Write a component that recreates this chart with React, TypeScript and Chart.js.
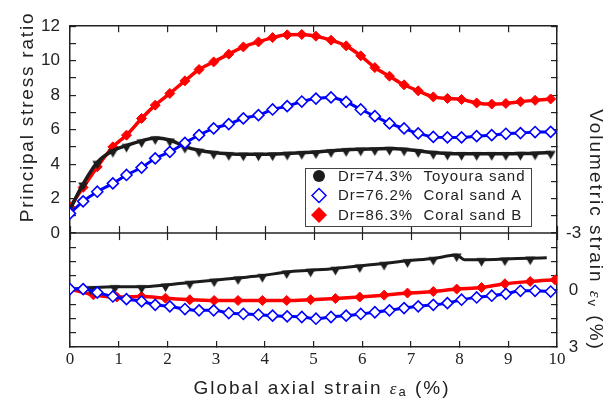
import React, { useEffect, useRef } from 'react';
import { Chart, registerables } from 'chart.js';

Chart.register(...registerables);

// ---------- data ----------
const seriesNames = ['Dr=74.3%  Toyoura sand', 'Dr=76.2%  Coral sand A', 'Dr=86.3%  Coral sand B'];

// upper panel: principal stress ratio vs axial strain
const strainTop = [0, 0.27, 0.56, 0.88, 1.16, 1.47, 1.75, 2.05, 2.36, 2.65, 2.95, 3.26, 3.56, 3.87, 4.16, 4.46, 4.76, 5.05, 5.36, 5.67, 5.97, 6.26, 6.56, 6.86, 7.15, 7.46, 7.75, 8.04, 8.35, 8.66, 8.95, 9.25, 9.55, 9.87];
const toyouraRatio = [1.38, 2.85, 4.1, 4.78, 5.08, 5.35, 5.52, 5.4, 5.02, 4.8, 4.67, 4.6, 4.57, 4.57, 4.58, 4.62, 4.66, 4.7, 4.77, 4.83, 4.86, 4.88, 4.9, 4.86, 4.77, 4.67, 4.62, 4.6, 4.6, 4.6, 4.6, 4.61, 4.63, 4.68];
const coralARatio = [1.14, 1.84, 2.4, 2.88, 3.37, 3.8, 4.33, 4.71, 5.23, 5.68, 6.07, 6.32, 6.65, 6.84, 7.17, 7.36, 7.63, 7.8, 7.87, 7.61, 7.17, 6.78, 6.36, 6.07, 5.78, 5.58, 5.55, 5.55, 5.62, 5.68, 5.76, 5.8, 5.86, 5.87];
const coralBRatio = [1.5, 2.65, 3.84, 5.0, 5.68, 6.65, 7.42, 8.1, 8.83, 9.49, 9.93, 10.38, 10.8, 11.09, 11.34, 11.5, 11.52, 11.42, 11.19, 10.86, 10.28, 9.6, 9.1, 8.6, 8.25, 7.9, 7.81, 7.75, 7.55, 7.48, 7.52, 7.62, 7.7, 7.78];

// lower panel: volumetric strain vs axial strain
const strainToyouraVol = [0, 0.42, 0.92, 1.47, 1.96, 2.46, 2.96, 3.45, 3.95, 4.45, 4.94, 5.45, 5.95, 6.45, 6.93, 7.46, 7.94, 8.1, 8.45, 8.93, 9.45, 9.79];
const toyouraVol = [-0.05, -0.12, -0.17, -0.17, -0.26, -0.4, -0.52, -0.64, -0.76, -0.95, -1.04, -1.14, -1.27, -1.4, -1.54, -1.66, -1.84, -1.6, -1.6, -1.63, -1.68, -1.7];
const toyouraVolUnmarked = [0, 8.1, 9.79];
const coralAVol = [-0.05, -0.05, 0.13, 0.34, 0.48, 0.6, 0.78, 0.86, 1.0, 1.07, 1.07, 1.21, 1.26, 1.3, 1.35, 1.39, 1.42, 1.51, 1.42, 1.35, 1.26, 1.17, 1.07, 0.95, 0.86, 0.78, 0.69, 0.51, 0.39, 0.3, 0.2, 0.04, 0.04, 0.08];
const strainCoralBVol = [0, 0.48, 0.96, 1.47, 1.96, 2.46, 2.96, 3.45, 3.95, 4.45, 4.94, 5.45, 5.95, 6.45, 6.93, 7.46, 7.94, 8.45, 8.93, 9.45, 9.96];
const coralBVol = [-0.05, 0.25, 0.37, 0.34, 0.43, 0.51, 0.55, 0.55, 0.55, 0.55, 0.51, 0.45, 0.37, 0.27, 0.16, 0.08, -0.05, -0.13, -0.33, -0.45, -0.54];

// axes
const strainRange = [0, 10];
const ratioRange = [0, 12];
const ratioTickLabels = [0, 2, 4, 6, 8, 10, 12];
const volRange = [-3, 3];
const volTickLabels = [-3, 0, 3];

// ---------- styling ----------
const SANS = '"Liberation Sans", Arial, Helvetica, sans-serif';
const SERIF = '"Liberation Serif", "Times New Roman", serif';
const INK = '#222222';
const BLACK = '#1c1c1c';
const BLUE = '#0000ff';
const RED = '#ff0000';

const pts = (xs: number[], ys: number[]) => xs.map((x, i) => ({ x, y: ys[i] }));

// downward triangle hanging just below its data point
function makeHangingTriangle(): HTMLCanvasElement {
  const c = document.createElement('canvas');
  c.width = 11;
  c.height = 20;
  const g = c.getContext('2d')!;
  g.fillStyle = BLACK;
  g.beginPath();
  g.moveTo(0.5, 8.5);
  g.lineTo(10.5, 8.5);
  g.lineTo(5.5, 17);
  g.closePath();
  g.fill();
  return c;
}

type Seg = { t: string; font: string; dy?: number };
function drawRich(ctx: CanvasRenderingContext2D, segs: Seg[], cx: number, cy: number, angle: number, spacing: number) {
  ctx.save();
  ctx.translate(cx, cy);
  ctx.rotate(angle);
  (ctx as any).letterSpacing = spacing + 'px';
  ctx.textAlign = 'left';
  ctx.textBaseline = 'alphabetic';
  ctx.fillStyle = INK;
  const widths = segs.map((s) => {
    ctx.font = s.font;
    return ctx.measureText(s.t).width;
  });
  const total = widths.reduce((a, b) => a + b, 0);
  let x = -total / 2;
  segs.forEach((s, i) => {
    ctx.font = s.font;
    ctx.fillText(s.t, x, s.dy || 0);
    x += widths[i];
  });
  ctx.restore();
}

const decorPlugin = {
  id: 'decor',
  afterDraw(chart: any) {
    const { ctx, chartArea, scales } = chart;
    const midY = scales.yBotL.top;
    ctx.save();
    // separator between panels
    ctx.strokeStyle = INK;
    ctx.lineWidth = 1.5;
    ctx.beginPath();
    ctx.moveTo(chartArea.left, midY);
    ctx.lineTo(chartArea.right, midY);
    ctx.stroke();
    ctx.lineWidth = 1.2;
    scales.x.ticks.forEach((t: any) => {
      const px = Math.round(scales.x.getPixelForValue(t.value)) + 0.5;
      ctx.beginPath();
      ctx.moveTo(px, midY - 7);
      ctx.lineTo(px, midY + 7);
      ctx.stroke();
    });
    ctx.restore();

    // legend
    const lx = 305, ly = 168, lw = 226, lh = 58;
    ctx.save();
    ctx.fillStyle = '#ffffff';
    ctx.fillRect(lx, ly, lw, lh);
    ctx.strokeStyle = '#444';
    ctx.lineWidth = 1;
    ctx.strokeRect(lx + 0.5, ly + 0.5, lw, lh);
    const rows = [176, 195.5, 215];
    const mx = 319;
    chart.data.datasets.slice(0, 3).forEach((ds: any, i: number) => {
      const y = rows[i];
      ctx.beginPath();
      if (i === 0) {
        ctx.arc(mx, y, 6, 0, Math.PI * 2);
        ctx.fillStyle = BLACK;
        ctx.fill();
      } else {
        const r = i === 1 ? 7 : 8;
        ctx.moveTo(mx - r, y);
        ctx.lineTo(mx, y - r);
        ctx.lineTo(mx + r, y);
        ctx.lineTo(mx, y + r);
        ctx.closePath();
        if (i === 1) {
          ctx.fillStyle = '#fff';
          ctx.fill();
          ctx.strokeStyle = BLUE;
          ctx.lineWidth = 1.5;
          ctx.stroke();
        } else {
          ctx.fillStyle = RED;
          ctx.fill();
        }
      }
      (ctx as any).letterSpacing = '1px';
      ctx.font = `15px ${SANS}`;
      ctx.fillStyle = INK;
      ctx.textAlign = 'left';
      ctx.textBaseline = 'middle';
      ctx.fillText(ds.label, 338, y + 0.5);
    });
    ctx.restore();

    // axis titles
    drawRich(ctx, [{ t: 'Principal stress ratio', font: `19px ${SANS}` }], 33, 117, -Math.PI / 2, 1.8);
    drawRich(
      ctx,
      [
        { t: 'Global axial strain ', font: `19px ${SANS}` },
        { t: 'ε', font: `italic 17px ${SERIF}` },
        { t: 'a', font: `13px ${SANS}`, dy: 2 },
        { t: ' (%)', font: `19px ${SANS}` },
      ],
      322,
      394,
      0,
      2
    );
    drawRich(
      ctx,
      [
        { t: 'Volumetric strain ', font: `19px ${SANS}` },
        { t: 'ε', font: `italic 17px ${SERIF}` },
        { t: 'v', font: `13px ${SANS}`, dy: 2 },
        { t: ' (%)', font: `19px ${SANS}` },
      ],
      590,
      230,
      Math.PI / 2,
      2
    );
  },
};

const gridOpts = {
  drawOnChartArea: false,
  tickLength: -6,
  color: INK,
  lineWidth: 1.2,
};
const borderOpts = { color: INK, width: 1.5 };

export default function App() {
  const canvasRef = useRef<HTMLCanvasElement | null>(null);

  useEffect(() => {
    document.body.style.margin = '0';
    const canvas = canvasRef.current;
    if (!canvas) return;
    const tri = makeHangingTriangle();

    const blackStyle = {
      borderColor: BLACK,
      backgroundColor: BLACK,
      pointStyle: tri,
      pointBorderWidth: 0,
      cubicInterpolationMode: 'monotone',
      order: 2,
    };
    const blueStyle = {
      borderColor: BLUE,
      borderWidth: 3,
      pointStyle: 'rectRot',
      pointRadius: 5.5,
      pointBackgroundColor: '#ffffff',
      pointBorderColor: BLUE,
      pointBorderWidth: 1.6,
      cubicInterpolationMode: 'monotone',
      order: 1,
    };
    const redStyle = {
      borderColor: RED,
      backgroundColor: RED,
      borderWidth: 3.5,
      pointStyle: 'rectRot',
      pointRadius: 5,
      pointBackgroundColor: RED,
      pointBorderColor: RED,
      pointBorderWidth: 1,
      cubicInterpolationMode: 'monotone',
      order: 3,
    };

    const chart = new Chart(canvas, {
      type: 'line',
      data: {
        datasets: [
          {
            label: seriesNames[0],
            data: pts(strainTop, toyouraRatio),
            xAxisID: 'x',
            yAxisID: 'yTop',
            borderWidth: 3.5,
            pointRadius: (c: any) => (c.dataIndex === 0 ? 0 : 4),
            ...blackStyle,
          },
          {
            label: seriesNames[1],
            data: pts(strainTop, coralARatio),
            xAxisID: 'x',
            yAxisID: 'yTop',
            ...blueStyle,
          },
          {
            label: seriesNames[2],
            data: pts(strainTop, coralBRatio),
            xAxisID: 'x',
            yAxisID: 'yTop',
            ...redStyle,
          },
          {
            label: seriesNames[0] + ' (vol)',
            data: pts(strainToyouraVol, toyouraVol),
            xAxisID: 'x',
            yAxisID: 'y',
            borderWidth: 3,
            pointRadius: (c: any) => (toyouraVolUnmarked.includes(strainToyouraVol[c.dataIndex]) ? 0 : 4),
            ...blackStyle,
          },
          {
            label: seriesNames[1] + ' (vol)',
            data: pts(strainTop, coralAVol),
            xAxisID: 'x',
            yAxisID: 'y',
            ...blueStyle,
          },
          {
            label: seriesNames[2] + ' (vol)',
            data: pts(strainCoralBVol, coralBVol),
            xAxisID: 'x',
            yAxisID: 'y',
            ...redStyle,
          },
        ],
      },
      options: {
        animation: false,
        responsive: true,
        maintainAspectRatio: false,
        layout: { padding: 0 },
        plugins: {
          legend: { display: false },
          tooltip: { enabled: false },
        },
        events: [],
        scales: {
          x: {
            type: 'linear',
            position: 'bottom',
            min: strainRange[0],
            max: strainRange[1],
            ticks: {
              stepSize: 1,
              autoSkip: false,
              maxRotation: 0,
              padding: 8,
              color: INK,
              font: { family: SERIF, size: 17 },
            },
            grid: gridOpts,
            border: borderOpts,
            afterFit: (s: any) => {
              s.height = 54;
            },
          },
          xTop: {
            type: 'linear',
            position: 'top',
            min: strainRange[0],
            max: strainRange[1],
            ticks: { stepSize: 1, autoSkip: false, display: false },
            grid: gridOpts,
            border: borderOpts,
            afterFit: (s: any) => {
              s.height = 26;
            },
          },
          yTop: {
            type: 'linear',
            position: 'left',
            stack: 'left',
            stackWeight: 207,
            weight: 2,
            min: ratioRange[0],
            max: ratioRange[1],
            ticks: {
              stepSize: 1,
              autoSkip: false,
              padding: 16,
              color: INK,
              font: { family: SANS, size: 17 },
              callback: (v: any) => (ratioTickLabels.includes(Number(v)) ? String(v) : ''),
            },
            grid: gridOpts,
            border: borderOpts,
            afterFit: (s: any) => {
              s.width = 70;
            },
          },
          yBotL: {
            type: 'linear',
            position: 'left',
            stack: 'left',
            stackWeight: 114,
            weight: 1,
            min: volRange[0],
            max: volRange[1],
            reverse: true,
            ticks: { stepSize: 0.75, autoSkip: false, display: false },
            grid: gridOpts,
            border: borderOpts,
            afterFit: (s: any) => {
              s.width = 70;
            },
          },
          yTopR: {
            type: 'linear',
            position: 'right',
            stack: 'right',
            stackWeight: 207,
            weight: 1,
            min: ratioRange[0],
            max: ratioRange[1],
            ticks: { stepSize: 1, autoSkip: false, display: false },
            grid: gridOpts,
            border: borderOpts,
            afterFit: (s: any) => {
              s.width = 53;
            },
          },
          y: {
            type: 'linear',
            position: 'right',
            stack: 'right',
            stackWeight: 114,
            weight: 2,
            min: volRange[0],
            max: volRange[1],
            reverse: true,
            ticks: {
              stepSize: 0.75,
              autoSkip: false,
              padding: 15,
              crossAlign: 'center',
              color: INK,
              font: { family: SANS, size: 17 },
              callback: (v: any) => {
                const n = Number(v);
                const hit = volTickLabels.find((t) => Math.abs(t - n) < 1e-9);
                return hit === undefined ? '' : (hit < 0 ? '-' : '') + Math.abs(hit);
              },
            },
            grid: gridOpts,
            border: borderOpts,
            afterFit: (s: any) => {
              s.width = 53;
            },
          },
        },
      } as any,
      plugins: [decorPlugin],
    });

    return () => chart.destroy();
  }, []);

  return (
    <div style={{ position: 'fixed', left: 0, top: 0, width: 610, height: 401, background: '#fff' }}>
      <canvas ref={canvasRef} />
    </div>
  );
}
